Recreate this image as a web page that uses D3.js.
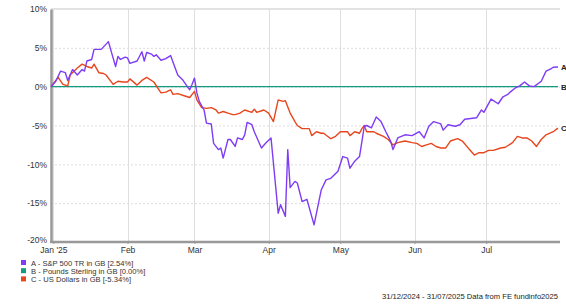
<!DOCTYPE html>
<html>
<head>
<meta charset="utf-8">
<script src="https://cdn.jsdelivr.net/npm/d3@7"></script>
<style>
  body { margin: 0; background: #fff; }
  svg { display: block; font-family: "Liberation Sans", Arial, sans-serif; }
</style>
</head>
<body>
<svg id="chart" width="566" height="304"></svg>
<script>
// series: [date, % growth]
const spx = [
  ['2024-12-31',0],['2025-01-02',0.7],['2025-01-04',2.0],['2025-01-06',1.8],['2025-01-07',0.8],
  ['2025-01-09',2.2],['2025-01-11',1.5],['2025-01-13',2.2],['2025-01-14',2.0],['2025-01-15',3.3],
  ['2025-01-17',3.5],['2025-01-18',4.8],['2025-01-21',4.8],['2025-01-24',5.8],['2025-01-27',2.6],
  ['2025-01-28',3.9],['2025-01-29',3.5],['2025-01-31',3.8],['2025-02-01',3.7],['2025-02-02',3.0],
  ['2025-02-05',3.3],['2025-02-07',4.5],['2025-02-08',3.3],['2025-02-09',4.4],['2025-02-11',4.2],
  ['2025-02-12',3.9],['2025-02-13',4.1],['2025-02-15',3.4],['2025-02-17',3.6],['2025-02-19',4.0],
  ['2025-02-22',1.5],['2025-02-24',0.9],['2025-02-26',0.0],['2025-02-27',-0.4],['2025-02-28',0.3],
  ['2025-03-01',1.1],['2025-03-02',-0.8],['2025-03-03',-1.9],['2025-03-05',-3.0],['2025-03-06',-4.7],
  ['2025-03-08',-4.8],['2025-03-09',-7.3],['2025-03-11',-8.1],['2025-03-12',-7.9],['2025-03-13',-9.2],
  ['2025-03-15',-6.8],['2025-03-16',-6.8],['2025-03-18',-7.7],['2025-03-19',-6.6],['2025-03-21',-6.8],
  ['2025-03-22',-6.2],['2025-03-23',-4.6],['2025-03-25',-4.9],['2025-03-26',-5.8],['2025-03-29',-7.9],
  ['2025-03-31',-7.2],['2025-04-02',-6.6],['2025-04-05',-16.3],['2025-04-06',-15.2],['2025-04-08',-16.7],
  ['2025-04-09',-8.1],['2025-04-10',-13.0],['2025-04-12',-12.2],['2025-04-13',-12.4],['2025-04-15',-14.8],
  ['2025-04-17',-14.5],['2025-04-20',-17.8],['2025-04-23',-13.3],['2025-04-25',-12.0],['2025-04-27',-11.8],
  ['2025-04-30',-10.9],['2025-05-02',-9.0],['2025-05-04',-9.2],['2025-05-05',-10.5],['2025-05-07',-9.6],
  ['2025-05-09',-9.0],['2025-05-11',-5.1],['2025-05-12',-5.0],['2025-05-14',-5.3],['2025-05-16',-3.9],
  ['2025-05-18',-4.5],['2025-05-20',-5.8],['2025-05-21',-6.4],['2025-05-22',-7.0],['2025-05-23',-8.1],
  ['2025-05-25',-6.6],['2025-05-28',-6.2],['2025-05-31',-6.3],['2025-06-03',-5.8],['2025-06-05',-6.6],
  ['2025-06-07',-5.1],['2025-06-09',-4.5],['2025-06-12',-4.8],['2025-06-13',-5.6],['2025-06-15',-4.9],
  ['2025-06-18',-5.1],['2025-06-20',-4.9],['2025-06-22',-4.2],['2025-06-27',-4.0],['2025-06-29',-3.0],
  ['2025-06-30',-3.3],['2025-07-03',-1.6],['2025-07-06',-2.2],['2025-07-08',-1.3],['2025-07-10',-1.0],
  ['2025-07-11',-0.7],['2025-07-13',-0.2],['2025-07-15',0.1],['2025-07-17',0.6],['2025-07-19',0.1],
  ['2025-07-21',0.0],['2025-07-24',0.7],['2025-07-26',2.0],['2025-07-28',2.3],['2025-07-29',2.5],
  ['2025-07-31',2.54]
];

const gbp = [['2024-12-31',0],['2025-07-31',0]];

const usd = [
  ['2024-12-31',0],['2025-01-03',1.2],['2025-01-05',0.3],['2025-01-07',0.1],['2025-01-08',1.5],
  ['2025-01-11',2.4],['2025-01-13',2.9],['2025-01-15',2.6],['2025-01-17',2.4],['2025-01-18',2.9],
  ['2025-01-20',1.8],['2025-01-22',1.7],['2025-01-23',1.5],['2025-01-26',0.3],['2025-01-28',0.7],
  ['2025-01-30',0.6],['2025-02-01',0.6],['2025-02-02',1.0],['2025-02-05',0.2],['2025-02-07',0.8],
  ['2025-02-09',1.2],['2025-02-12',0.6],['2025-02-15',-0.8],['2025-02-17',-0.7],['2025-02-19',-0.4],
  ['2025-02-20',-1.0],['2025-02-22',-0.9],['2025-02-25',-1.2],['2025-02-27',-1.4],['2025-03-01',-0.6],
  ['2025-03-02',-1.7],['2025-03-04',-2.7],['2025-03-06',-2.8],['2025-03-08',-2.7],['2025-03-10',-3.0],
  ['2025-03-11',-3.4],['2025-03-13',-3.2],['2025-03-15',-3.4],['2025-03-17',-3.6],['2025-03-18',-3.6],
  ['2025-03-20',-3.4],['2025-03-22',-3.0],['2025-03-25',-3.3],['2025-03-26',-2.9],['2025-03-27',-3.3],
  ['2025-03-30',-3.0],['2025-04-01',-3.4],['2025-04-03',-4.5],['2025-04-05',-1.7],['2025-04-07',-1.9],
  ['2025-04-08',-1.8],['2025-04-10',-3.4],['2025-04-12',-4.5],['2025-04-13',-5.0],['2025-04-15',-5.4],
  ['2025-04-18',-5.4],['2025-04-19',-6.3],['2025-04-21',-5.8],['2025-04-23',-6.0],['2025-04-24',-6.0],
  ['2025-04-27',-6.7],['2025-04-29',-6.4],['2025-05-01',-5.8],['2025-05-04',-5.8],['2025-05-05',-6.3],
  ['2025-05-07',-5.8],['2025-05-09',-6.0],['2025-05-10',-5.4],['2025-05-11',-5.0],['2025-05-12',-5.8],
  ['2025-05-15',-5.8],['2025-05-16',-6.0],['2025-05-19',-6.4],['2025-05-21',-6.8],['2025-05-23',-7.5],
  ['2025-05-25',-7.2],['2025-05-28',-7.0],['2025-05-31',-7.2],['2025-06-02',-7.3],['2025-06-04',-7.7],
  ['2025-06-06',-7.5],['2025-06-08',-7.3],['2025-06-10',-7.7],['2025-06-12',-7.9],['2025-06-14',-7.9],
  ['2025-06-16',-7.0],['2025-06-19',-6.7],['2025-06-21',-7.0],['2025-06-24',-8.1],['2025-06-26',-8.8],
  ['2025-06-28',-8.5],['2025-06-30',-8.5],['2025-07-02',-8.2],['2025-07-04',-8.2],['2025-07-07',-7.9],
  ['2025-07-09',-7.8],['2025-07-12',-7.2],['2025-07-14',-6.4],['2025-07-16',-6.6],['2025-07-18',-6.6],
  ['2025-07-20',-7.0],['2025-07-22',-7.7],['2025-07-24',-6.8],['2025-07-26',-6.2],['2025-07-29',-5.8],
  ['2025-07-31',-5.34]
];

const yTicks = [10, 5, 0, -5, -10, -15, -20];
const monthTicks = ['2025-01-01','2025-02-01','2025-03-01','2025-04-01','2025-05-01','2025-06-01','2025-07-01'];
const monthLabels = ["Jan '25",'Feb','Mar','Apr','May','Jun','Jul'];

const seriesNames = ['A - S&P 500 TR in GB [2.54%]','B - Pounds Sterling in GB [0.00%]','C - US Dollars in GB [-5.34%]'];
const seriesTags = ['A','B','C'];
const seriesColors = ['#7f3cf5','#139b82','#e8461d'];
const footer = '31/12/2024 - 31/07/2025 Data from FE fundinfo2025';

const parse = d3.timeParse('%Y-%m-%d');
const svg = d3.select('#chart');
const m = {left: 51, right: 558, top: 9, bottom: 242};

const x = d3.scaleTime()
  .domain([parse('2024-12-31'), parse('2025-07-31')])
  .range([m.left, m.right]);
const y = d3.scaleLinear().domain([-20, 10]).range([m.bottom, m.top]);

// grid
const grid = svg.append('g');
grid.selectAll('line.h').data(yTicks.filter(v => v !== 10 && v !== -20)).enter().append('line')
  .attr('x1', m.left).attr('x2', 560)
  .attr('y1', d => y(d) + 0.5).attr('y2', d => y(d) + 0.5)
  .attr('stroke', '#dcdcdc').attr('stroke-dasharray', '2,2');
grid.append('line')
  .attr('x1', m.left).attr('x2', 560).attr('y1', y(10)).attr('y2', y(10))
  .attr('stroke', '#e2e2e2').attr('stroke-width', 2);
grid.selectAll('line.v').data(monthTicks).enter().append('line')
  .attr('x1', d => Math.round(x(parse(d))) + 0.5).attr('x2', d => Math.round(x(parse(d))) + 0.5)
  .attr('y1', m.top).attr('y2', m.bottom)
  .attr('stroke', '#dedede');

// axes
const yAxis = svg.append('g').attr('transform', `translate(${m.left},0)`)
  .call(d3.axisLeft(y).tickValues(yTicks).tickSize(0).tickPadding(4).tickFormat(d => d + '%'));
yAxis.select('.domain').attr('stroke', '#999').attr('stroke-width', 2.5);
yAxis.selectAll('text').attr('font-size', 8.5).attr('fill', '#333').attr('font-family', 'Liberation Sans, Arial');
yAxis.selectAll('.tick').filter(d => d === -20).select('text').attr('dy', '0.1em');

const xAxis = svg.append('g').attr('transform', `translate(0,${m.bottom})`)
  .call(d3.axisBottom(x).tickValues(monthTicks.map(parse)).tickSize(2).tickPadding(3)
    .tickFormat((d, i) => monthLabels[i]));
xAxis.select('.domain').attr('stroke', '#999').attr('stroke-width', 2.5).attr('d', `M${m.left - 1},0H560`);
xAxis.selectAll('.tick line').attr('stroke', '#999');
xAxis.selectAll('text').attr('font-size', 8.5).attr('fill', '#333').attr('font-family', 'Liberation Sans, Arial');

// lines
const line = d3.line().x(d => x(parse(d[0]))).y(d => y(d[1]));
const all = [spx, gbp, usd];
const draw = [gbp, usd, spx];
draw.forEach(s => {
  const i = all.indexOf(s);
  svg.append('path').datum(s)
    .attr('d', line).attr('fill', 'none')
    .attr('stroke', seriesColors[i]).attr('stroke-width', 1.4)
    .attr('stroke-linejoin', 'round');
});

// end tags
all.forEach((s, i) => {
  const last = s[s.length - 1];
  svg.append('text')
    .attr('x', x(parse(last[0])) + 3).attr('y', y(last[1]) + 3)
    .attr('font-size', 8).attr('font-weight', 'bold').attr('fill', '#222')
    .text(seriesTags[i]);
});

// legend
const lg = svg.append('g').attr('transform', 'translate(21,260)');
seriesNames.forEach((n, i) => {
  lg.append('rect').attr('x', 0).attr('y', i * 8.2).attr('width', 5).attr('height', 5)
    .attr('fill', seriesColors[i]);
  lg.append('text').attr('x', 10).attr('y', i * 8.2 + 5.5)
    .attr('font-size', 7.6).attr('fill', '#333').text(n);
});

svg.append('text').attr('x', 558).attr('y', 299).attr('text-anchor', 'end')
  .attr('font-size', 7.6).attr('fill', '#222').text(footer);
</script>
</body>
</html>
